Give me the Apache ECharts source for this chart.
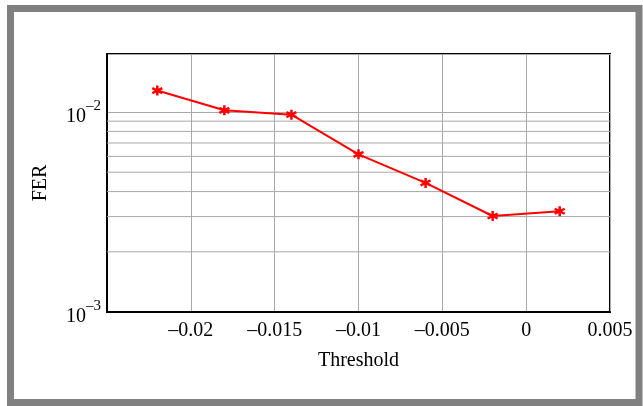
<!DOCTYPE html>
<html>
<head>
<meta charset="utf-8">
<script src="https://cdn.jsdelivr.net/npm/echarts@6/dist/echarts.min.js"></script>
<style>
  html, body { margin: 0; padding: 0; background: #fff; }
  #main { width: 643px; height: 406px; }
</style>
</head>
<body>
<div id="main"></div>
<script>
// data
const thresholds = [-0.022, -0.018, -0.014, -0.010, -0.006, -0.002, 0.002]
const fer = [0.0128, 0.0102, 0.0097, 0.00614, 0.00442, 0.00302, 0.00319]
// minor grid lines of the log axis
const minorTicks = [0.002, 0.003, 0.004, 0.005, 0.006, 0.007, 0.008, 0.009]
const xMin = -0.025
const xMax = 0.005

const font = 'Liberation Serif'
const chart = echarts.init(document.getElementById('main'))

// minor grid lines as plain line series spanning the x range
const minorSeries = minorTicks.map(v => ({
  type: 'line',
  data: [[xMin, v], [xMax, v]],
  symbol: 'none',
  silent: true,
  lineStyle: { color: '#a8a8a8', width: 1 },
  z: 1
}))

chart.setOption({
  animation: false,
  textStyle: { fontFamily: font },
  graphic: [{
    type: 'rect',
    shape: { x: 10.5, y: 8.5, width: 628.5, height: 394 },
    style: { fill: 'none', stroke: '#808080', lineWidth: 7 },
    z: 100
  }],
  grid: {
    left: 107,
    top: 54,
    right: 33,
    bottom: 94,
    show: true,
    borderColor: '#000',
    borderWidth: 2,
    backgroundColor: 'transparent'
  },
  xAxis: {
    type: 'value',
    min: xMin,
    max: xMax,
    interval: 0.005,
    name: 'Threshold',
    nameLocation: 'middle',
    nameGap: 39,
    nameTextStyle: { fontFamily: font, fontSize: 20, color: '#000' },
    axisLine: { show: true, onZero: false, lineStyle: { color: '#000', width: 2 } },
    axisTick: { show: false },
    axisLabel: {
      fontFamily: font,
      fontSize: 20,
      color: '#000',
      margin: 9,
      showMinLabel: false,
      formatter: v => {
        const r = Math.round(v * 1000) / 1000
        if (r === 0) return '0'
        return r < 0 ? '\u2013' + String(-r) : String(r)
      }
    },
    splitLine: { show: true, lineStyle: { color: '#a8a8a8', width: 1 } }
  },
  yAxis: {
    type: 'log',
    logBase: 10,
    min: 0.001,
    max: 0.0195,
    interval: 1,
    name: 'FER',
    nameLocation: 'middle',
    nameGap: 56,
    nameTextStyle: { fontFamily: font, fontSize: 20, color: '#000' },
    axisLine: { show: true, onZero: false, lineStyle: { color: '#000', width: 2 } },
    axisTick: { show: false },
    axisLabel: {
      fontFamily: font,
      color: '#000',
      margin: 6,
      showMaxLabel: false,
      formatter: v => {
        const e = Math.round(Math.log10(v))
        if (e > -2) return ''
        return '{b|10}{s|\u2013' + String(-e) + '}'
      },
      rich: {
        b: { fontFamily: font, fontSize: 20, color: '#000', padding: [10, 0, 0, 0] },
        s: { fontFamily: font, fontSize: 15, color: '#000', padding: [0, 0, 12, 0] }
      }
    },
    splitLine: { show: true, lineStyle: { color: '#a8a8a8', width: 1 } }
  },
  series: minorSeries.concat([{
    type: 'line',
    data: thresholds.map((t, i) => [t, fer[i]]),
    symbol: 'path://M0,-5L0,5M-4.33,-2.5L4.33,2.5M-4.33,2.5L4.33,-2.5',
    symbolSize: 10,
    showAllSymbol: true,
    lineStyle: { color: '#ff0000', width: 2 },
    itemStyle: { color: '#ff0000', borderColor: '#ff0000', borderWidth: 2.5 },
    z: 10
  }])
})
</script>
</body>
</html>
